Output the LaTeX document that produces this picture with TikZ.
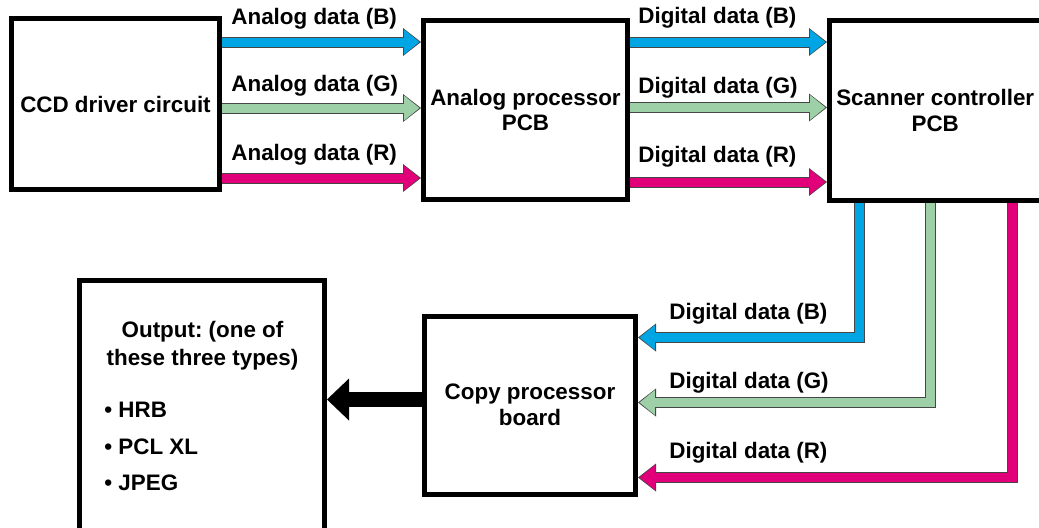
\documentclass[tikz,border=0pt]{standalone}
\usepackage{fontspec}
\setmainfont{Liberation Sans}
\usetikzlibrary{arrows.meta,calc}
\definecolor{cB}{RGB}{0,166,228}
\definecolor{cG}{RGB}{158,208,168}
\definecolor{cR}{RGB}{226,0,122}
\definecolor{edgecol}{RGB}{70,70,70}
\frenchspacing
\tikzset{
 box/.style={draw=black, line width=2.5pt, fill=white, align=center,
   font=\bfseries\fontsize{11.2}{12.8}\selectfont, inner sep=0pt},
 lbl/.style={font=\bfseries\fontsize{11.2}{14}\selectfont, inner sep=0pt, anchor=west},
 fatout/.style={draw=edgecol, line width=5.5pt,
   -{Triangle[width=14pt,length=9pt,line width=0pt,fill=edgecol]}},
 fatin/.style={draw=#1, line width=4.5pt, shorten >=0.8pt,
   -{Triangle[width=12.4pt,length=7.6pt,line width=0pt,fill=#1]}},
 bigarrow/.style={draw=black, line width=7.5pt,
   -{Triangle[width=21pt,length=11pt,line width=0pt,fill=black]}},
}
\newcommand\fatarrow[2]{\draw[fatout] #2; \draw[fatin=#1] #2;}
\begin{document}
\begin{tikzpicture}[x=0.5pt,y=-0.5pt]
\useasboundingbox (0,0) rectangle (1039,527);
\clip (0,0) rectangle (1039,527);
% boxes
\node[box, minimum width=104pt, minimum height=85.5pt] (ccd) at (115.5,104) {CCD driver circuit};
\node[box, minimum width=102pt, minimum height=89.5pt] (ap) at (525.5,110) {Analog processor\\PCB};
\node[box, minimum width=105.75pt, minimum height=90pt] (sc) at (935.25,110.5) {Scanner controller\\PCB};
\node[box, minimum width=105.5pt, minimum height=89pt] (cp) at (530,405) {Copy processor\\board};
\node[box, minimum width=122.75pt, minimum height=129.75pt] (out) at (201.75,410.25) {};
% output texts
\node[lbl, anchor=center, align=center] (o1) at (202.5,346) {Output: (one of\\these three types)};
\node[lbl] (o2) at (104,410) {\textbullet\ HRB};
\node[lbl] (o3) at (104,447) {\textbullet\ PCL XL};
\node[lbl] (o4) at (104,483) {\textbullet\ JPEG};
% levels
\coordinate (yB1) at (0,42);
\coordinate (yG1) at (0,108);
\coordinate (yR1) at (0,178);
\coordinate (yB2) at (0,42);
\coordinate (yG2) at (0,107.5);
\coordinate (yR2) at (0,182);
\coordinate (xB) at (859,0);
\coordinate (xG) at (930,0);
\coordinate (xR) at (1012,0);
\coordinate (yB3) at (0,337.5);
\coordinate (yG3) at (0,402.5);
\coordinate (yR3) at (0,477.5);
\coordinate (yK) at (0,399.5);
% arrows
\fatarrow{cB}{(ccd.east |- yB1) -- (ap.west |- yB1)}
\fatarrow{cG}{(ccd.east |- yG1) -- (ap.west |- yG1)}
\fatarrow{cR}{(ccd.east |- yR1) -- (ap.west |- yR1)}
\fatarrow{cB}{(ap.east |- yB2) -- (sc.west |- yB2)}
\fatarrow{cG}{(ap.east |- yG2) -- (sc.west |- yG2)}
\fatarrow{cR}{(ap.east |- yR2) -- (sc.west |- yR2)}
\fatarrow{cB}{(sc.south -| xB) |- (cp.east |- yB3)}
\fatarrow{cG}{(sc.south -| xG) |- (cp.east |- yG3)}
\fatarrow{cR}{(sc.south -| xR) |- (cp.east |- yR3)}
\draw[bigarrow] (cp.west |- yK) -- (out.east |- yK);
% labels
\node[lbl] (la1) at (231,19) {Analog data (B)};
\node[lbl] (la2) at (231,86) {Analog data (G)};
\node[lbl] (la3) at (231,155) {Analog data (R)};
\node[lbl] (ld1) at (638,18) {Digital data (B)};
\node[lbl] (ld2) at (638,88) {Digital data (G)};
\node[lbl] (ld3) at (638,157) {Digital data (R)};
\node[lbl] (ld4) at (669,314) {Digital data (B)};
\node[lbl] (ld5) at (669,383) {Digital data (G)};
\node[lbl] (ld6) at (669,453) {Digital data (R)};
\end{tikzpicture}
\end{document}
